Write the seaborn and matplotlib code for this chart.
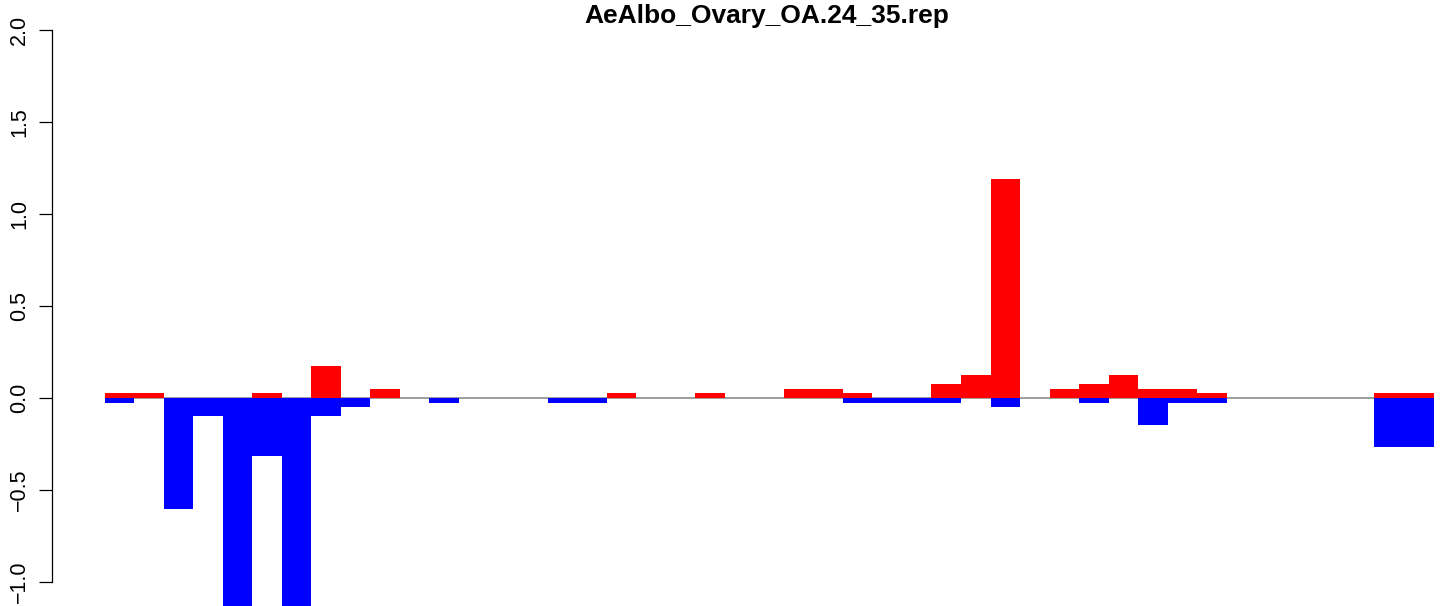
import numpy as np
import pandas as pd
import seaborn as sns
import matplotlib
matplotlib.use('Agg')
import matplotlib.pyplot as plt

title = 'AeAlbo_Ovary_OA.24_35.rep'

# one value per position
up_values = [0.025, 0.025, 0, 0, 0, 0.025, 0, 0.174, 0, 0.049,
             0, 0, 0, 0, 0, 0, 0, 0.025, 0, 0,
             0.025, 0, 0, 0.049, 0.049, 0.025, 0, 0, 0.076, 0.125,
             1.19, 0, 0.049, 0.076, 0.125, 0.049, 0.049, 0.025, 0, 0,
             0, 0, 0, 0.025, 0.025]
down_values = [-0.025, 0, -0.603, -0.1, -1.3, -0.315, -1.3, -0.1, -0.049, 0,
               0, -0.025, 0, 0, 0, -0.025, -0.025, 0, 0, 0,
               0, 0, 0, 0, 0, -0.025, -0.025, -0.025, -0.025, 0,
               -0.049, 0, 0, -0.025, 0, -0.147, -0.025, -0.025, 0, 0,
               0, 0, 0, -0.266, -0.266]
y_ticks = [-1.0, -0.5, 0.0, 0.5, 1.0, 1.5, 2.0]

n = len(up_values)
df = pd.DataFrame({'pos': np.arange(n), 'up': up_values, 'down': down_values})

sns.set_style('white')
plt.rcParams['font.family'] = ['Liberation Sans', 'DejaVu Sans']
plt.rcParams['text.color'] = 'black'
plt.rcParams['ytick.color'] = 'black'
plt.rcParams['ytick.labelcolor'] = 'black'

W, H = 1441, 606
fig = plt.figure(figsize=(W / 100, H / 100), dpi=100)
# plot region in pixels: left 51.5, right 1486 (past the edge, like R), top 8, bottom 606
ax = fig.add_axes([51.5 / W, 0, (1486 - 51.5) / W, 598 / H])

ax.hlines(0, -0.5, n - 0.5, color='#8c8c8c', lw=1.2, zorder=0)
sns.barplot(data=df, x='pos', y='up', color='#FF0000', saturation=1,
            width=1, linewidth=0, errorbar=None, ax=ax, zorder=2)
sns.barplot(data=df, x='pos', y='down', color='#0000FF', saturation=1,
            width=1, linewidth=0, errorbar=None, ax=ax, zorder=3)

ax.set_xlim(-2.3, -2.3 + (1486 - 51.5) / 29.53)
ax.set_ylim(-208 / 184, 390 / 184)
ax.set_xticks([])
ax.set_xlabel('')
ax.set_ylabel('')
ax.set_yticks(y_ticks)
ax.set_yticklabels([f'{v:.1f}'.replace('-', '\u2212') for v in y_ticks],
                   rotation=90, va='center', fontsize=15.5, color='black')
ax.tick_params(axis='y', length=9.5, width=0.9, pad=6, left=True, color='black')
for s in ['top', 'right', 'bottom']:
    ax.spines[s].set_visible(False)
ax.spines['left'].set_bounds(-1, 2)
ax.spines['left'].set_linewidth(0.9)
ax.spines['left'].set_color('black')

fig.text(767 / W, 1 - 23 / H, title, ha='center', va='baseline',
         fontsize=19, fontweight='bold', color='black')

fig.savefig('out.png', dpi=100)
